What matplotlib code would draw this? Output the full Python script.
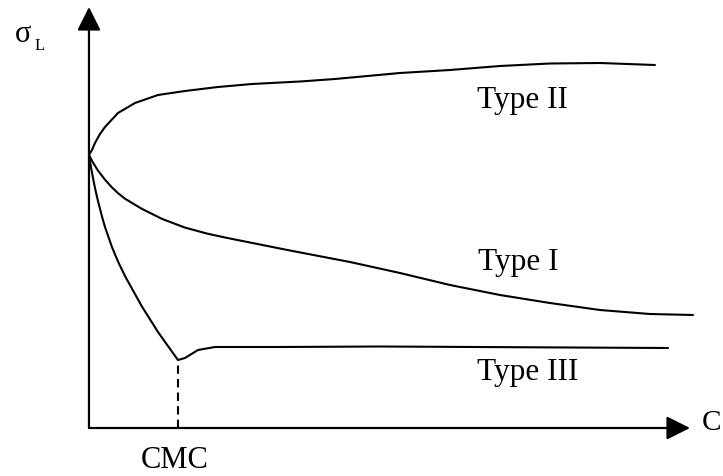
import matplotlib
matplotlib.use("Agg")
import matplotlib.pyplot as plt

# curves (x = concentration, y = surface tension, arbitrary units)
type2_x = [0, 0.05, 0.10, 0.183, 0.267, 0.483, 0.767, 1.15, 1.60, 2.15, 2.717, 3.517, 4.10,
           5.183, 6.017, 6.85, 7.683, 8.517, 9.433]
type2_y = [6.825, 6.95, 7.125, 7.35, 7.525, 7.875, 8.125, 8.325, 8.425, 8.525, 8.60, 8.6625, 8.725,
           8.875, 8.95, 9.05, 9.1125, 9.125, 9.075]

type1_x = [0, 0.067, 0.15, 0.267, 0.383, 0.483, 0.60, 0.883, 1.217, 1.60, 1.983, 2.267, 2.683,
           3.35, 4.35, 5.183, 6.017, 6.85, 7.683, 8.517, 9.35, 10.067]
type1_y = [6.825, 6.635, 6.435, 6.2075, 6.015, 5.8725, 5.7325, 5.4775, 5.2275, 5.01, 4.855, 4.7625, 4.6375,
           4.4375, 4.15, 3.875, 3.575, 3.325, 3.125, 2.95, 2.85, 2.825]

type3_x = [0, 0.033, 0.067, 0.10, 0.15, 0.217, 0.267, 0.383, 0.483, 0.60, 0.883, 1.15, 1.383,
           1.483, 1.60, 1.817, 2.10, 3.183, 4.85, 9.65]
type3_y = [6.825, 6.525, 6.25, 6.0, 5.675, 5.285, 5.025, 4.525, 4.165, 3.80, 3.035, 2.40, 1.91,
           1.70, 1.75, 1.95, 2.025, 2.025, 2.0375, 2.00]

cmc_x = 1.483
cmc_y = 1.70

labels = ["Type II", "Type I", "Type III"]
label_pos = [(6.47, 8.0), (6.48, 3.95), (6.47, 1.2)]

serif = "Liberation Serif"

fig = plt.figure(figsize=(7.23, 4.76), dpi=100)
ax = fig.add_axes([0, 0, 1, 1])
ax.set_xlim(-1.483, 10.567)
ax.set_ylim(-1.2, 10.7)
ax.axis("off")

# axes with arrow heads
arrow = dict(arrowstyle="-|>,head_length=0.72,head_width=0.36", color="black",
             lw=1.6, mutation_scale=20, shrinkA=0, shrinkB=0)
ax.annotate("", xy=(0, 10.525), xytext=(0, 0), arrowprops=arrow)
ax.annotate("", xy=(10.017, 0), xytext=(0, 0), arrowprops=arrow)

# the three curves
for xs, ys in [(type2_x, type2_y), (type1_x, type1_y), (type3_x, type3_y)]:
    ax.plot(xs, ys, color="black", lw=1.5, solid_joinstyle="round", solid_capstyle="round")

# CMC marker
ax.plot([cmc_x, cmc_x], [0, cmc_y], color="black", lw=1.5, linestyle=(0, (4, 2.5)))

for txt, (lx, ly) in zip(labels, label_pos):
    ax.text(lx, ly, txt, fontsize=22.5, family=serif, ha="left", va="baseline")

ax.text(cmc_x - 0.05, -1.0, "CMC", fontsize=22, family=serif, ha="center", va="baseline")
ax.text(10.22, -0.05, "C", fontsize=21, family=serif, ha="left", va="baseline")
ax.text(-1.23, 9.65, "σ", fontsize=22, family=serif, ha="left", va="baseline")
ax.text(-0.9, 9.45, "L", fontsize=12, family=serif, ha="left", va="baseline")

fig.savefig("out.png", dpi=100)
